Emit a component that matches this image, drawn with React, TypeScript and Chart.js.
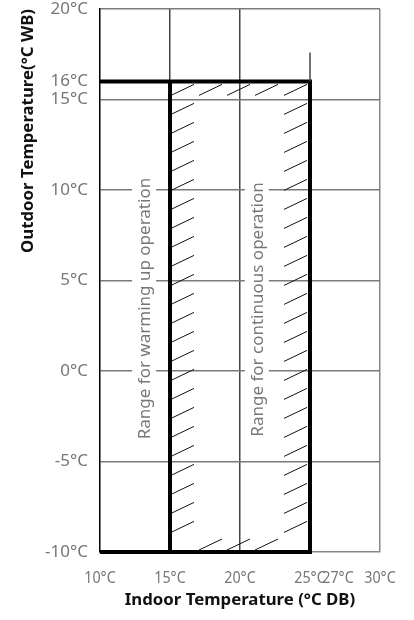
import React, { useEffect, useRef } from "react";
import { Chart, registerables } from "chart.js";

Chart.register(...registerables);

// Axes
const X_MIN = 10;
const X_MAX = 30;
const Y_MIN = -10;
const Y_MAX = 20;
const X_TICKS = [10, 15, 20, 25, 27, 30];
const X_TICK_LABELS = ["10°C", "15°C", "20°C", "25°C", "27°C", "30°C"];
const Y_TICKS = [-10, -5, 0, 5, 10, 15, 16, 20];
const Y_TICK_LABELS = ["-10°C", "-5°C", "0°C", "5°C", "10°C", "15°C", "16°C", "20°C"];

// Operating range (indoor °C DB vs outdoor °C WB)
const RANGE_X = [10, 25];
const WARMUP_X = [10, 15];
const CONT_X = [15, 25];
const RANGE_Y = [-10, 16];
const STUB_X = 25;
const STUB_Y = [16, 17.6];

// Region labels (anchored in data units)
const REGION_LABELS = ["Range for warming up operation", "Range for continuous operation"];
const REGION_LABEL_X = [13.15, 21.2];
const REGION_LABEL_Y = [3.45, 3.4];

const FONT = '"Noto Sans", "Open Sans", sans-serif';

// condensed x-axis tick labels (the original uses a narrow typeface)
const xTickLabelPlugin = {
  id: "xTickLabels",
  afterDraw(chart: any) {
    const { ctx } = chart;
    const xs = chart.scales.x;
    const baseY = xs.top + 31;
    ctx.save();
    ctx.font = `17px ${FONT}`;
    ctx.fillStyle = "#777";
    ctx.textAlign = "center";
    ctx.textBaseline = "alphabetic";
    X_TICKS.forEach((v, i) => {
      const px = xs.getPixelForValue(v);
      ctx.save();
      ctx.translate(px, baseY);
      ctx.scale(0.84, 1);
      ctx.fillText(X_TICK_LABELS[i], 0, 0);
      ctx.restore();
    });
    ctx.restore();
  },
};

const hatchPlugin = {
  id: "hatchBand",
  beforeDatasetsDraw(chart: any) {
    const { ctx } = chart;
    const xs = chart.scales.x;
    const ys = chart.scales.y;
    const l = xs.getPixelForValue(CONT_X[0]);
    const r = xs.getPixelForValue(CONT_X[1]);
    const t = ys.getPixelForValue(RANGE_Y[1]);
    const b = ys.getPixelForValue(RANGE_Y[0]);
    const W = 23;
    const H = 11;
    ctx.save();
    ctx.strokeStyle = "#111";
    ctx.lineWidth = 1;
    ctx.beginPath();
    for (let yy = t + 14; yy < b - 2; yy += 19) {
      ctx.moveTo(l + 1, yy);
      ctx.lineTo(l + 1 + W, yy - H);
      ctx.moveTo(r - 26, yy);
      ctx.lineTo(r - 26 + W, yy - H);
    }
    for (let xx = l + 1 + 28; xx + W < r - 26; xx += 28) {
      ctx.moveTo(xx, t + 14);
      ctx.lineTo(xx + W, t + 3);
      ctx.moveTo(xx, b - 2);
      ctx.lineTo(xx + W, b - 13);
    }
    ctx.stroke();

    // region labels with white background
    ctx.font = `17px ${FONT}`;
    ctx.textAlign = "center";
    ctx.textBaseline = "middle";
    REGION_LABELS.forEach((text, i) => {
      const px = xs.getPixelForValue(REGION_LABEL_X[i]);
      const py = ys.getPixelForValue(REGION_LABEL_Y[i]);
      const w = ctx.measureText(text).width;
      ctx.save();
      ctx.translate(px, py);
      ctx.rotate(-Math.PI / 2);
      ctx.fillStyle = "#ffffff";
      ctx.fillRect(-w / 2 - 4, -12, w + 8, 24);
      ctx.fillStyle = "#777777";
      ctx.fillText(text, 0, 1);
      ctx.restore();
    });
    ctx.restore();
  },
};

export default function App() {
  const ref = useRef<HTMLCanvasElement | null>(null);

  useEffect(() => {
    if (!ref.current) return;
    const outline = [
      { x: RANGE_X[0], y: RANGE_Y[1] },
      { x: RANGE_X[1], y: RANGE_Y[1] },
      { x: RANGE_X[1], y: RANGE_Y[0] },
      { x: RANGE_X[0], y: RANGE_Y[0] },
    ];
    const divider = [
      { x: WARMUP_X[1], y: RANGE_Y[1] },
      { x: WARMUP_X[1], y: RANGE_Y[0] },
    ];
    const stub = [
      { x: STUB_X, y: STUB_Y[0] },
      { x: STUB_X, y: STUB_Y[1] },
    ];
    const lineDefaults = {
      pointRadius: 0,
      fill: false,
      tension: 0,
      borderJoinStyle: "miter" as const,
      borderCapStyle: "butt" as const,
      clip: false as const,
    };

    const chart = new Chart(ref.current, {
      type: "line",
      data: {
        datasets: [
          { ...lineDefaults, data: stub, borderColor: "#444", borderWidth: 1.5 },
          { ...lineDefaults, data: outline, borderColor: "#000", borderWidth: 4 },
          { ...lineDefaults, data: divider, borderColor: "#000", borderWidth: 4 },
        ],
      },
      options: {
        responsive: false,
        maintainAspectRatio: false,
        animation: false,
        events: [],
        layout: { padding: { top: 9, right: 34, left: 0, bottom: 0 } },
        plugins: { legend: { display: false }, tooltip: { enabled: false } },
        scales: {
          x: {
            type: "linear",
            min: X_MIN,
            max: X_MAX,
            afterBuildTicks: (s: any) => {
              s.ticks = X_TICKS.map((v) => ({ value: v }));
            },
            afterFit: (s: any) => {
              s.height = 68;
              s.paddingLeft = 0;
              s.paddingRight = 0;
            },
            ticks: {
              display: false,
              autoSkip: false,
              maxRotation: 0,
            },
            grid: {
              drawTicks: false,
              lineWidth: 1.5,
              color: (c: any) => {
                const v = c.tick && c.tick.value;
                if (v === 15 || v === 20) return "#444";
                if (v === 30) return "#888";
                return "rgba(0,0,0,0)";
              },
            },
            border: { display: true, color: "#888", width: 1.5 },
            title: {
              display: true,
              text: "Indoor Temperature (°C DB)",
              color: "#111",
              font: { family: FONT, size: 16.8, weight: "bold" },
              padding: { top: 0, bottom: 10 },
            },
          },
          y: {
            type: "linear",
            min: Y_MIN,
            max: Y_MAX,
            afterBuildTicks: (s: any) => {
              s.ticks = Y_TICKS.map((v) => ({ value: v }));
            },
            afterFit: (s: any) => {
              s.width = 100;
              s.paddingTop = 0;
              s.paddingBottom = 0;
            },
            ticks: {
              autoSkip: false,
              padding: 12,
              color: "#777",
              font: { family: FONT, size: 17, lineHeight: 1 },
              callback: (v: any) => Y_TICK_LABELS[Y_TICKS.indexOf(Number(v))],
            },
            grid: {
              drawTicks: false,
              lineWidth: 1.5,
              color: (c: any) => {
                const v = c.tick && c.tick.value;
                if (v === 16 || v === -10) return "rgba(0,0,0,0)";
                return "#7a7a7a";
              },
            },
            border: { display: true, color: "#000", width: 1.5 },
            title: {
              display: true,
              text: "Outdoor Temperature(°C WB)",
              align: "end",
              color: "#111",
              font: { family: FONT, size: 16.8, weight: "bold" },
              padding: { top: 18, bottom: 0 },
            },
          },
        },
      },
      plugins: [hatchPlugin, xTickLabelPlugin],
    });
    return () => chart.destroy();
  }, []);

  return (
    <div
      style={{
        position: "absolute",
        left: 0,
        top: 0,
        width: 414,
        height: 620,
        background: "#fff",
      }}
    >
      <canvas ref={ref} width={414} height={620} style={{ display: "block" }} />
    </div>
  );
}
